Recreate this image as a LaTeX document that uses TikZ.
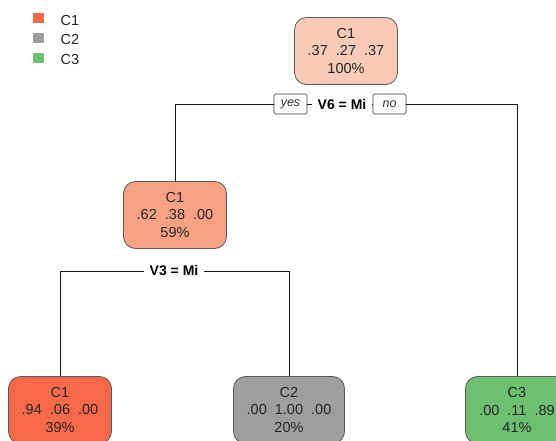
\documentclass[tikz,border=0pt]{standalone}
\usepackage{fontspec}
\setmainfont{Liberation Sans}
\definecolor{cA}{HTML}{F9CBB6}
\definecolor{cB}{HTML}{F7A283}
\definecolor{cC}{HTML}{F8694A}
\definecolor{cG}{HTML}{9E9E9E}
\definecolor{cV}{HTML}{6CC06F}
\definecolor{bord}{HTML}{5A5A5A}
\begin{document}
\begin{tikzpicture}[x=1pt,y=-1pt,
  leaf/.style={rectangle,rounded corners=12pt,draw=bord,line width=0.8pt,align=center,
    minimum width=103pt,minimum height=67pt,inner sep=0pt,
    font=\fontsize{14.5}{17.5}\selectfont,text=black!85},
  splitlbl/.style={font=\fontsize{14}{16}\selectfont\bfseries,inner sep=5pt},
  yn/.style={draw=black!80,rounded corners=1.5pt,line width=0.6pt,font=\fontsize{12.5}{13}\selectfont\itshape,
    minimum height=20pt,inner sep=1pt,fill=white,text=black!80},
  conn/.style={draw=black!90,line width=0.7pt},
  legsq/.style={fill=#1,minimum width=11pt,minimum height=10pt,inner sep=0pt},
  legtxt/.style={font=\fontsize{14.5}{16}\selectfont,anchor=west,text=black!85}]
\useasboundingbox (0,0) rectangle (556,441);
\clip (0,0) rectangle (556,441);
% legend
\node[legsq=cC] (l1) at (38,18) {};
\node[legtxt] (t1) at (57,20.5) {C1};
\node[legsq=cG] (l2) at (38,38) {};
\node[legtxt] (t2) at (57,40) {C2};
\node[legsq=cV] (l3) at (38,58) {};
\node[legtxt] (t3) at (57,60) {C3};
% nodes
\node[leaf,fill=cA] (n1) at (346,51) {C1\\.37\ \ .27\ \ .37\\100\%};
\node[leaf,fill=cB] (n2) at (175,215) {C1\\.62\ \ .38\ \ .00\\59\%};
\node[leaf,fill=cC] (n4) at (60,410) {C1\\.94\ \ .06\ \ .00\\39\%};
\node[leaf,fill=cG,minimum width=111pt] (n5) at (289,410) {C2\\.00\ \ 1.00\ \ .00\\20\%};
\node[leaf,fill=cV] (n3) at (517,410) {C3\\.00\ \ .11\ \ .89\\41\%};
% split 1
\node[splitlbl] (s1) at (342,104) {V6 = Mi};
\node[yn,minimum width=33pt] (y1) at (290.5,104) {yes};
\node[yn,minimum width=33pt] (no1) at (389.5,104) {no};
\draw[conn] (y1) -- (s1);
\draw[conn] (s1) -- (no1);
\draw[conn] (y1.west) -| (n2.north);
\draw[conn] (no1.east) -| (n3.north);
% split 2
\node[splitlbl] (s2) at (174,271) {V3 = Mi};
\draw[conn] (s2.west) -| (n4.north);
\draw[conn] (s2.east) -| (n5.north);
\end{tikzpicture}
\end{document}
